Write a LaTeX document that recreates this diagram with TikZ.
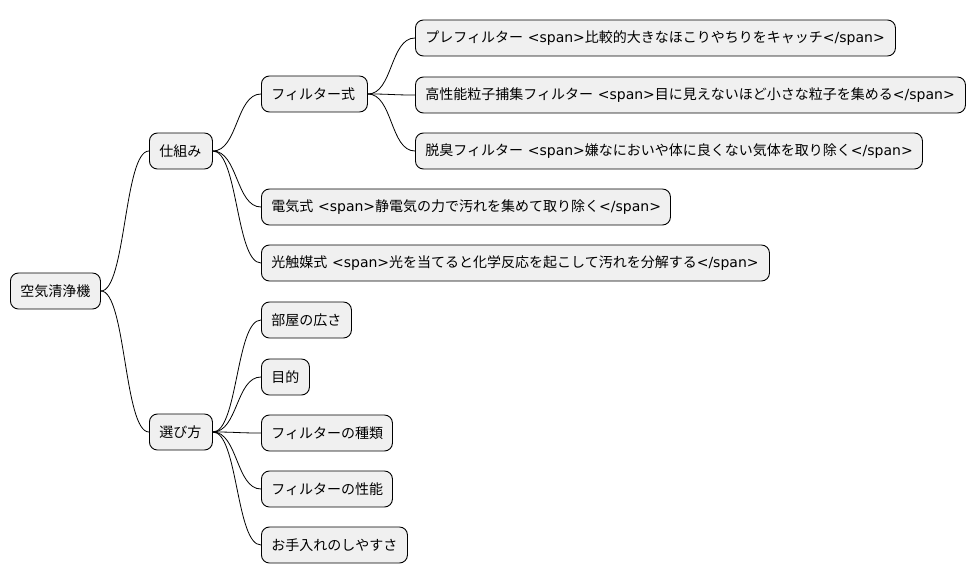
\documentclass[tikz,border=0pt]{standalone}
\usepackage{fontspec}
\setmainfont{Noto Sans CJK JP}
\newfontfamily\lat{DejaVu Sans}
\newcommand{\sO}{{\lat <span>}}
\newcommand{\sC}{{\lat </span>}}
\begin{document}
\begin{tikzpicture}[x=1pt,y=-1pt,
 box/.style={draw=black,line width=0.9pt,fill=black!6,rounded corners=8pt,minimum height=36pt,inner xsep=10pt,anchor=west,font=\fontsize{14}{16}\selectfont,text width=#1-20pt,align=left},
 con/.style={draw=black,line width=0.8pt}]
\useasboundingbox (0,0) rectangle (976,583);
\node[box=90pt] (root) at (10,291) {空気清浄機};
\node[box=63pt] (a) at (149,151) {仕組み};
\node[box=63pt] (b) at (149,432) {選び方};
\node[box=106pt] (a1) at (261,94) {フィルター式};
\node[box=480pt] (a11) at (415,38) {プレフィルター \sO 比較的大きなほこりやちりをキャッチ\sC};
\node[box=550pt] (a12) at (415,95) {高性能粒子捕集フィルター \sO 目に見えないほど小さな粒子を集める\sC};
\node[box=507pt] (a13) at (415,151) {脱臭フィルター \sO 嫌なにおいや体に良くない気体を取り除く\sC};
\node[box=409pt] (a2) at (261,207) {電気式 \sO 静電気の力で汚れを集めて取り除く\sC};
\node[box=508pt] (a3) at (261,263) {光触媒式 \sO 光を当てると化学反応を起こして汚れを分解する\sC};
\node[box=90pt] (b1) at (261,320) {部屋の広さ};
\node[box=48pt] (b2) at (261,377) {目的};
\node[box=131pt] (b3) at (261,433) {フィルターの種類};
\node[box=131pt] (b4) at (261,489) {フィルターの性能};
\node[box=146pt] (b5) at (261,545) {お手入れのしやすさ};
\foreach \p/\c in {root/a,root/b,a/a1,a/a2,a/a3,a1/a11,a1/a12,a1/a13,b/b1,b/b2,b/b3,b/b4,b/b5}
  \draw[con] (\p.east) .. controls +(25,0) and +(-25,0) .. (\c.west);
\end{tikzpicture}
\end{document}
